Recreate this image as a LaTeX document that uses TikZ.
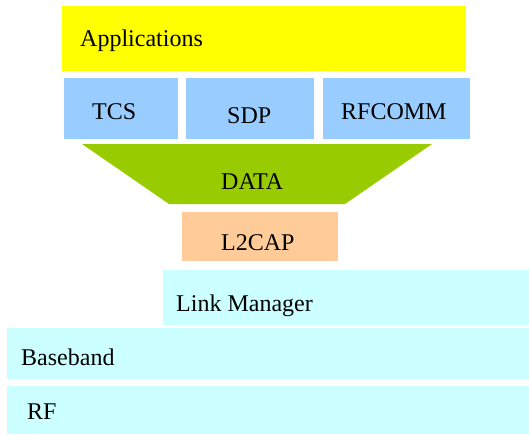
\documentclass[tikz,border=0pt]{standalone}
\usepackage{fontspec}
\setmainfont{Liberation Serif}
\definecolor{appyellow}{HTML}{FFFF00}
\definecolor{protoblue}{HTML}{99CCFF}
\definecolor{datagreen}{HTML}{99CC00}
\definecolor{cappeach}{HTML}{FFCC99}
\definecolor{lowcyan}{HTML}{CCFFFF}
\begin{document}
\begin{tikzpicture}[x=1pt, y=-1pt,
    layer/.style={anchor=north west, inner sep=0pt, outer sep=0pt},
    lbl/.style={anchor=base west, inner sep=0pt, font=\fontsize{24}{28}\selectfont}]
  \useasboundingbox (0,0) rectangle (529,434);
  % boxes
  \node[layer, fill=appyellow, minimum width=404, minimum height=65] (app) at (62,6) {};
  \node[layer, fill=protoblue, minimum width=114, minimum height=61] (tcs) at (64,78) {};
  \node[layer, fill=protoblue, minimum width=128, minimum height=61] (sdp) at (186,78) {};
  \node[layer, fill=protoblue, minimum width=147, minimum height=61] (rfcomm) at (323,78) {};
  \coordinate (dtl) at (82,144);
  \coordinate (dtr) at (432,144);
  \coordinate (dbr) at (345,204);
  \coordinate (dbl) at (169,204);
  \fill[datagreen] (dtl) -- (dtr) -- (dbr) -- (dbl) -- cycle;
  \node[layer, fill=cappeach, minimum width=156, minimum height=49] (l2cap) at (182,212) {};
  \node[layer, fill=lowcyan, minimum width=366, minimum height=55] (lm) at (163,270) {};
  \node[layer, fill=lowcyan, minimum width=522, minimum height=51] (bb) at (7,328) {};
  \node[layer, fill=lowcyan, minimum width=522, minimum height=48] (rf) at (7,386) {};
  % labels
  \node[lbl] (tapp) at (80,46.7) {Applications};
  \node[lbl] (ttcs) at (92,119) {TCS};
  \node[lbl] (tsdp) at (227,123.3) {SDP};
  \node[lbl] (trfc) at (341,119) {RFCOMM};
  \node[lbl] (tdata) at (221,189.3) {DATA};
  \node[lbl] (tl2) at (221,250) {L2CAP};
  \node[lbl] (tlm) at (176,311.7) {Link Manager};
  \node[lbl] (tbb) at (21,365.7) {Baseband};
  \node[lbl] (trf) at (27,419) {RF};
\end{tikzpicture}
\end{document}
